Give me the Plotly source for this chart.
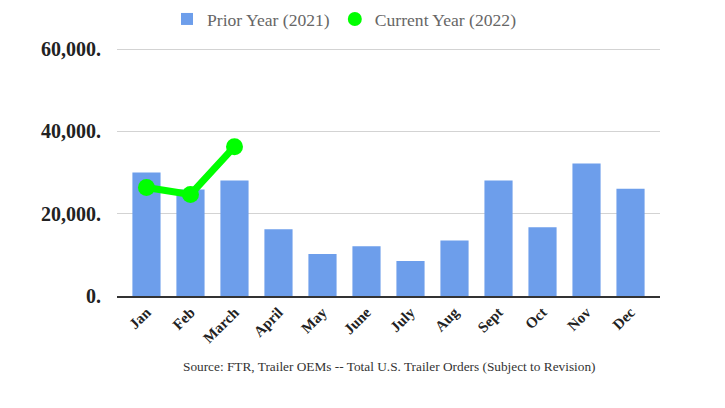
import plotly.graph_objects as go

months = ["Jan", "Feb", "March", "April", "May", "June", "July", "Aug", "Sept", "Oct", "Nov", "Dec"]
prior_2021 = [30000, 25900, 28100, 16200, 10200, 12100, 8500, 13500, 28100, 16700, 32200, 26100]
current_months = ["Jan", "Feb", "March"]
current_2022 = [26400, 24700, 36300]
y_ticks = [0, 20000, 40000, 60000]
y_tick_text = ["0.", "20,000.", "40,000.", "60,000."]

SERIF = "Liberation Serif"

fig = go.Figure()
fig.add_trace(go.Bar(
    x=months, y=prior_2021, name="Prior Year (2021)",
    marker=dict(color="#6d9eeb", line=dict(width=0)),
))
fig.add_trace(go.Scatter(
    x=current_months, y=current_2022, name="Current Year (2022)",
    mode="lines+markers", showlegend=False,
    line=dict(color="#00ff00", width=7),
    marker=dict(color="#00ff00", size=17),
))
fig.add_trace(go.Scatter(
    x=[None], y=[None], name="Current Year (2022)",
    mode="markers", marker=dict(color="#00ff00", size=14),
))

fig.update_layout(
    width=725, height=408,
    margin=dict(l=109, r=73, t=40, b=120, autoexpand=False),
    paper_bgcolor="white", plot_bgcolor="white",
    bargap=0.36,
    font=dict(family=SERIF),
    legend=dict(
        orientation="h", x=0.419, xanchor="center", y=0.973, yanchor="middle",
        yref="container", font=dict(size=17.6, color="#666666", family=SERIF),
        itemwidth=30, bgcolor="rgba(0,0,0,0)",
    ),
    xaxis=dict(
        type="category", tickangle=-45, range=[-0.67, 11.67],
        tickfont=dict(size=15, color="#222222", family=SERIF, weight="bold"),
        showline=True, linecolor="#333333", linewidth=1.5,
        showgrid=False, ticks="",
    ),
    yaxis=dict(
        range=[0, 60300], tickvals=y_ticks, ticktext=y_tick_text,
        tickfont=dict(size=20, color="#222222", family=SERIF, weight="bold"),
        showgrid=True, gridcolor="#d3d3d3", gridwidth=1,
        zeroline=False, ticks="", ticklabelstandoff=15,
    ),
    annotations=[dict(
        text="Source: FTR, Trailer OEMs -- Total U.S. Trailer Orders (Subject to Revision)",
        xref="paper", yref="paper", x=0.5, y=-0.285, xanchor="center", yanchor="middle",
        showarrow=False, font=dict(size=13.3, color="#333333", family=SERIF),
    )],
)

fig.write_html("out.html")
